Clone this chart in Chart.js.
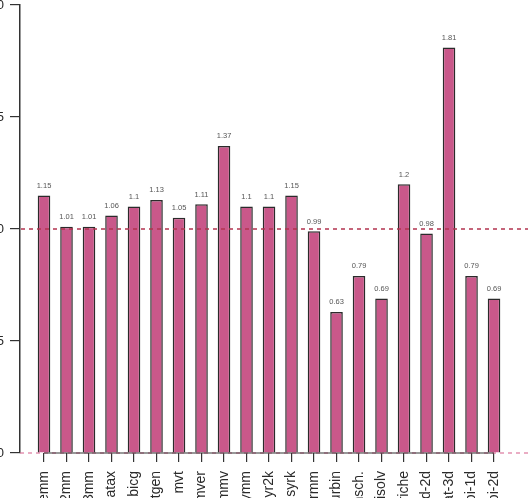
<!DOCTYPE html>
<html>
<head>
<meta charset="utf-8">
<script src="https://cdn.jsdelivr.net/npm/chart.js@4"></script>
<style>
  html, body { margin: 0; padding: 0; overflow: hidden; background: #fff; }
  #wrap { position: absolute; left: -30px; top: 0; width: 560px; height: 540px; }
</style>
</head>
<body>
<div id="wrap"><canvas id="c" width="560" height="540"></canvas></div>
<script>
const categories = ["gemm","2mm","3mm","atax","bicg","doitgen","mvt","gemver","gesummv","symm","syr2k","syrk","trmm","durbin","gramsch.","trisolv","deriche","fdtd-2d","heat-3d","jacobi-1d","jacobi-2d"];
const speedups = [1.15,1.01,1.01,1.06,1.1,1.13,1.05,1.11,1.37,1.1,1.1,1.15,0.99,0.63,0.79,0.69,1.2,0.98,1.81,0.79,0.69];
const yTicks = [0, 0.5, 1.0, 1.5, 2.0];
const referenceLine = 1.0;

const points = speedups.map((v, i) => ({ x: i, y: v }));

const refPlugin = {
  id: 'refLines',
  beforeDatasetsDraw(chart) {
    const { ctx, chartArea, scales } = chart;
    const y0 = scales.y.getPixelForValue(0);
    ctx.save();
    ctx.strokeStyle = 'rgba(214,96,140,0.85)';
    ctx.lineWidth = 1.2;
    ctx.setLineDash([4, 4]);
    ctx.beginPath();
    ctx.moveTo(chartArea.left, y0);
    ctx.lineTo(chartArea.right, y0);
    ctx.stroke();
    ctx.restore();
  },
  afterDatasetsDraw(chart) {
    const { ctx, chartArea, scales } = chart;
    const y0 = scales.y.getPixelForValue(0);
    const x0 = scales.x.getPixelForValue(0);
    const x1 = scales.x.getPixelForValue(categories.length - 1);
    ctx.save();
    ctx.strokeStyle = '#333';
    ctx.lineWidth = 1.2;
    ctx.beginPath();
    ctx.moveTo(x0, y0);
    ctx.lineTo(x1, y0);
    ctx.stroke();
    const yr = scales.y.getPixelForValue(referenceLine);
    ctx.strokeStyle = '#b2334f';
    ctx.lineWidth = 1.5;
    ctx.setLineDash([4, 4]);
    ctx.beginPath();
    ctx.moveTo(chartArea.left + 1, yr);
    ctx.lineTo(chartArea.right, yr);
    ctx.stroke();
    ctx.setLineDash([]);
    const meta = chart.getDatasetMeta(0);
    ctx.fillStyle = '#555';
    ctx.font = '7.5px "Liberation Sans", Arial, sans-serif';
    ctx.textAlign = 'center';
    ctx.textBaseline = 'bottom';
    meta.data.forEach((bar, i) => {
      ctx.fillText(String(speedups[i]), bar.x, bar.y - 6);
    });
    ctx.restore();
  }
};

new Chart(document.getElementById('c'), {
  type: 'bar',
  data: {
    datasets: [{
      data: points,
      backgroundColor: '#c9588a',
      borderColor: '#2b2b2b',
      borderWidth: 1.5,
      categoryPercentage: 1,
      barPercentage: 0.56
    }]
  },
  options: {
    responsive: false,
    animation: false,
    events: [],
    layout: { padding: { top: 5, right: 2, left: 0, bottom: 0 } },
    plugins: { legend: { display: false }, tooltip: { enabled: false } },
    scales: {
      x: {
        type: 'linear',
        offset: false,
        min: -1.0667,
        max: 21.51,
        afterBuildTicks(scale) { scale.ticks = categories.map((c, i) => ({ value: i })); },
        afterFit(scale) { scale.height = 87; scale.paddingLeft = 0; scale.paddingRight = 0; },
        border: { display: false },
        grid: { offset: false, drawOnChartArea: false, drawTicks: true, tickLength: 9, color: '#333', lineWidth: 1.2 },
        ticks: {
          autoSkip: false,
          minRotation: 90,
          maxRotation: 90,
          padding: 9,
          color: '#2a2a2a',
          font: { family: '"Liberation Sans", Arial, sans-serif', size: 14 },
          callback: (v) => categories[v] ?? ''
        }
      },
      y: {
        min: 0,
        max: 2,
        afterBuildTicks(scale) { scale.ticks = yTicks.map(v => ({ value: v })); },
        afterFit(scale) { scale.width = 50; scale.paddingTop = 0; scale.paddingBottom = 0; },
        border: { display: true, color: '#333', width: 1.5 },
        grid: { drawOnChartArea: false, drawTicks: true, tickLength: 10, color: '#333', lineWidth: 1.2 },
        ticks: {
          padding: 6,
          color: '#2a2a2a',
          font: { family: '"Liberation Sans", Arial, sans-serif', size: 13 },
          callback: (v) => v.toFixed(1)
        }
      }
    }
  },
  plugins: [refPlugin]
});
</script>
</body>
</html>
